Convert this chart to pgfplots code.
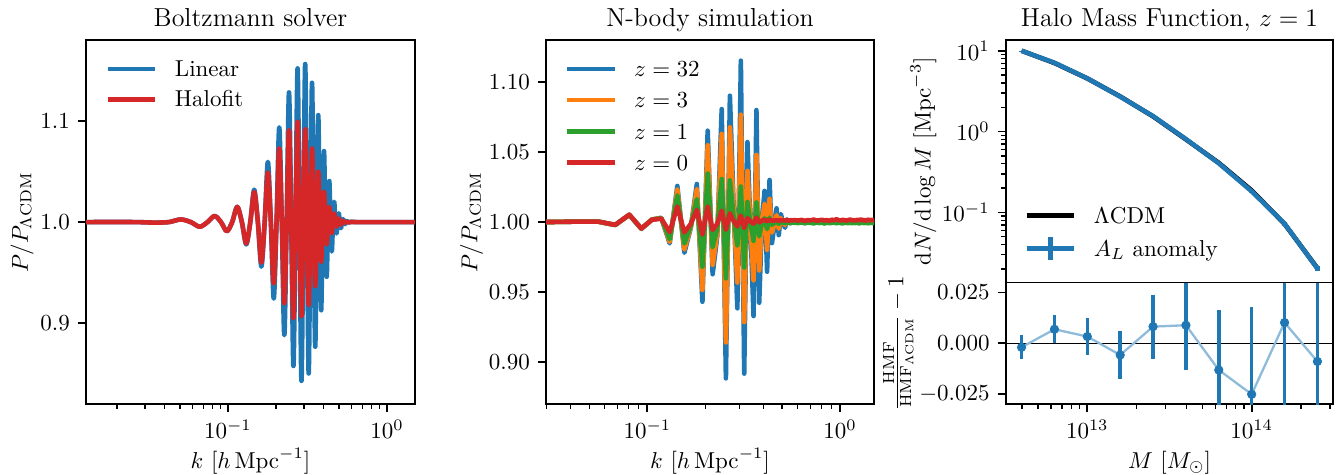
\documentclass[border=0pt]{standalone}
\usepackage{pgfplots}
\pgfplotsset{compat=1.18}
\usepackage{pgfplotstable}

\definecolor{tabblue}{HTML}{1F77B4}
\definecolor{taborange}{HTML}{FF7F0E}
\definecolor{tabgreen}{HTML}{2CA02C}
\definecolor{tabred}{HTML}{D62728}

% N-body power spectrum ratios, one column per redshift
\pgfplotstableread{
k      z32    z3     z1     z0
0.0181 1.0000 1.0000 1.0000 1.0000
0.0306 1.0000 1.0000 1.0000 1.0000
0.0431 1.0003 1.0003 1.0003 1.0003
0.0556 1.0003 1.0003 1.0003 1.0003
0.0681 0.9979 0.9979 0.9979 0.9980
0.0806 1.0052 1.0052 1.0051 1.0052
0.0931 0.9952 0.9952 0.9953 0.9954
0.1056 1.0018 1.0018 1.0017 1.0016
0.1181 1.0030 1.0029 1.0027 1.0024
0.1306 0.9848 0.9859 0.9878 0.9929
0.1431 1.0257 1.0231 1.0190 1.0111
0.1556 0.9781 0.9805 0.9847 0.9926
0.1681 0.9960 0.9965 0.9974 0.9987
0.1806 1.0271 1.0233 1.0163 1.0087
0.1931 0.9432 0.9517 0.9682 0.9910
0.2056 1.0651 1.0547 1.0345 1.0111
0.2181 0.9628 0.9695 0.9821 0.9944
0.2306 0.9900 0.9920 0.9957 0.9988
0.2431 1.0805 1.0628 1.0306 1.0081
0.2556 0.8886 0.9142 0.9599 0.9945
0.2681 1.0900 1.0675 1.0297 1.0063
0.2806 1.0100 1.0072 1.0030 1.0006
0.2931 0.9385 0.9569 0.9834 0.9969
0.3056 1.1150 1.0765 1.0253 1.0046
0.3181 0.8920 0.9287 0.9676 0.9957
0.3306 1.0570 1.0365 1.0143 1.0028
0.3431 0.9950 0.9969 0.9989 1.0004
0.3556 0.9330 0.9585 0.9866 0.9988
0.3681 1.0798 1.0479 1.0140 1.0032
0.3806 0.9425 0.9655 0.9898 0.9998
0.3931 1.0000 1.0000 0.9996 1.0010
0.4056 1.0222 1.0127 1.0027 1.0016
0.4181 0.9646 0.9802 0.9950 1.0005
0.4306 1.0300 1.0165 1.0032 1.0018
0.4431 0.9850 0.9925 0.9981 1.0009
0.4556 0.9970 0.9985 0.9993 1.0011
0.4681 1.0098 1.0049 1.0006 1.0014
0.4806 0.9907 0.9953 0.9987 1.0010
0.4931 1.0057 1.0028 1.0002 1.0013
0.5056 0.9990 0.9995 0.9995 1.0012
0.5181 0.9960 0.9980 0.9992 1.0011
0.5306 1.0019 1.0010 0.9998 1.0014
0.5431 0.9995 0.9998 0.9995 1.0010
0.5556 0.9990 0.9996 0.9994 1.0013
0.5681 1.0008 1.0004 0.9997 1.0012
0.5806 1.0000 1.0000 0.9995 1.0014
0.6056 1.0003 1.0001 0.9993 1.0011
0.6306 0.9998 1.0004 0.9997 1.0015
0.6556 1.0001 0.9999 0.9991 1.0009
0.6806 0.9996 1.0003 0.9996 1.0014
0.7056 1.0004 1.0000 0.9994 1.0012
0.7306 1.0000 1.0005 0.9990 1.0018
0.7556 0.9997 1.0002 0.9997 1.0010
0.7806 1.0002 0.9998 0.9993 1.0013
0.8056 1.0005 1.0004 0.9995 1.0016
0.8306 0.9999 1.0001 0.9989 1.0011
0.8556 1.0001 0.9999 0.9996 1.0014
0.8806 0.9996 1.0003 0.9992 1.0009
0.9056 1.0003 1.0006 0.9994 1.0017
0.9306 1.0000 1.0000 0.9998 1.0012
0.9556 1.0004 1.0002 0.9991 1.0020
0.9806 0.9998 1.0004 0.9995 1.0014
1.0056 1.0002 0.9999 0.9993 1.0011
1.0306 0.9997 1.0003 0.9990 1.0016
1.0556 1.0005 1.0001 0.9996 1.0013
1.0806 1.0001 1.0005 0.9994 1.0010
1.1056 0.9999 1.0002 0.9992 1.0015
1.1306 1.0004 0.9999 0.9997 1.0018
1.1556 0.9998 1.0004 0.9991 1.0012
1.1806 1.0003 1.0001 0.9995 1.0014
1.2056 1.0000 1.0003 0.9993 1.0011
1.2306 0.9996 1.0006 0.9996 1.0016
1.2556 1.0002 1.0000 0.9990 1.0013
1.2806 1.0005 1.0002 0.9994 1.0019
1.3056 0.9999 1.0004 0.9997 1.0012
1.3306 1.0001 0.9999 0.9992 1.0015
1.3556 1.0004 1.0003 0.9995 1.0010
1.3806 0.9997 1.0001 0.9993 1.0014
1.4056 1.0003 1.0005 0.9991 1.0017
1.4306 1.0000 1.0002 0.9996 1.0012
1.4556 1.0002 1.0000 0.9994 1.0015
1.4806 0.9998 1.0004 0.9992 1.0013
1.5056 1.0001 1.0002 0.9995 1.0016
}\nbody

% Linear and Halofit ratios from the Boltzmann code
\pgfplotstableread{
k      lin    halo
0.0128 1.0000 1.0000
0.0185 1.0001 1.0001
0.0265 1.0000 1.0000
0.0345 0.9995 0.9995
0.0425 1.0000 1.0000
0.0504 1.0026 1.0026
0.0584 1.0000 1.0000
0.0664 0.9954 0.9954
0.0744 1.0000 1.0000
0.0824 1.0060 1.0060
0.0904 1.0000 1.0000
0.0983 0.9910 0.9910
0.1063 1.0000 1.0000
0.1143 1.0151 1.0151
0.1223 1.0000 1.0000
0.1303 0.9780 0.9790
0.1382 1.0000 1.0000
0.1462 1.0320 1.0296
0.1542 1.0000 1.0000
0.1622 0.9560 0.9600
0.1702 1.0000 1.0000
0.1782 1.0595 1.0490
0.1861 1.0000 1.0000
0.1941 0.9245 0.9395
0.2021 1.0000 1.0000
0.2101 1.0935 1.0728
0.2181 1.0000 1.0000
0.2261 0.8884 0.9197
0.2340 1.0000 1.0000
0.2420 1.1280 1.0908
0.2500 1.0000 1.0000
0.2580 0.8580 0.9050
0.2660 1.0000 1.0000
0.2740 1.1517 1.0990
0.2819 1.0000 1.0000
0.2899 0.8433 0.9070
0.2979 1.0000 1.0000
0.3059 1.1560 1.0915
0.3139 1.0000 1.0000
0.3218 0.8506 0.9180
0.3298 1.0000 1.0000
0.3378 1.1375 1.0728
0.3458 1.0000 1.0000
0.3538 0.8770 0.9370
0.3618 1.0000 1.0000
0.3697 1.1056 1.0497
0.3777 1.0000 1.0000
0.3857 0.9130 0.9610
0.3937 1.0000 1.0000
0.4017 1.0700 1.0300
0.4097 1.0000 1.0000
0.4176 0.9460 0.9780
0.4256 1.0000 1.0000
0.4336 1.0405 1.0150
0.4416 1.0000 1.0000
0.4496 0.9710 0.9890
0.4575 1.0000 1.0000
0.4655 1.0200 1.0086
0.4735 1.0000 1.0000
0.4815 0.9888 0.9955
0.4895 1.0000 1.0000
0.4975 1.0086 1.0037
0.5054 1.0000 1.0000
0.5134 0.9940 0.9975
0.5214 1.0000 1.0000
0.5294 1.0030 1.0012
0.5374 1.0000 1.0000
0.5453 0.9980 0.9992
0.5533 1.0000 1.0000
0.5613 1.0010 1.0004
0.5693 1.0000 1.0000
0.5773 0.9995 0.9998
0.5853 1.0000 1.0000
0.5933 1.0003 1.0001
0.6500 1.0000 1.0000
0.8000 1.0000 1.0000
1.0000 1.0000 1.0000
1.5000 1.0000 1.0000
}\boltz

% Halo mass function at z = 1 and the relative deviation
\pgfplotstableread{
M        LCDM   AL     eAL    r       er
3.981e12 10.00  9.980  0.060  -0.0020 0.0060
6.310e12 7.050  7.099  0.050  0.0069  0.0070
1.000e13 4.540  4.555  0.041  0.0033  0.0090
1.585e13 2.720  2.704  0.032  -0.0058 0.0118
2.512e13 1.540  1.553  0.025  0.0082  0.0158
3.981e13 0.800  0.8071 0.018  0.0089  0.0220
6.310e13 0.410  0.4046 0.012  -0.0132 0.0296
1.000e14 0.187  0.1823 0.0078 -0.0252 0.0431
1.585e14 0.0720 0.0727 0.0040 0.0102  0.0550
2.512e14 0.0204 0.0202 0.0016 -0.0090 0.0800
}\hmf

\pgfplotsset{
  panel/.style={
    scale only axis,
    axis line style={line width=0.8pt},
    tick align=outside,
    xtick pos=left, ytick pos=left,
    major tick length=3.5pt, minor tick length=2pt,
    tick style={black, line width=0.8pt},
    minor tick style={line width=0.6pt},
    scaled ticks=false,
    tick label style={font=\fontsize{10}{12}\selectfont},
    label style={font=\fontsize{10}{12}\selectfont},
    every axis title/.style={at={(0.5,1)}, anchor=base, yshift=5.8pt,
      font=\fontsize{11.3}{13}\selectfont},
    every axis x label/.style={at={([yshift=-28pt]axis description cs:0.5,0)}, anchor=base},
    legend cell align=left,
    legend style={draw=none, fill=none, inner sep=0pt, row sep=3pt,
      nodes={inner sep=0pt, text height=8.6pt, text depth=2pt},
      font=\fontsize{10}{12}\selectfont,
      /tikz/every odd column/.append style={column sep=7.5pt}},
    legend image code/.code={\draw[##1] (0pt,0pt) -- (20.7pt,0pt);},
  },
  errlegend/.style={
    legend image code/.code={\draw[##1] (0pt,0pt) -- (20.7pt,0pt);
      \draw[##1] (10.35pt,-4.9pt) -- (10.35pt,4.9pt);}},
  curve/.style={line width=2pt, line join=round},
}

\begin{document}
\begin{tikzpicture}
\useasboundingbox (0,0) rectangle (582.6pt,206.1pt);

% ---------- Boltzmann solver ----------
\begin{axis}[panel,
  at={(37.39pt,30.43pt)}, anchor=south west,
  width=143.04pt, height=158.26pt,
  xmode=log, xmin=0.0128, xmax=1.5,
  ymin=0.8204, ymax=1.1797,
  xtick={0.1,1},
  minor xtick={0.02,0.03,0.04,0.05,0.06,0.07,0.08,0.09,0.2,0.3,0.4,0.5,0.6,0.7,0.8,0.9},
  ytick={0.9,1.0,1.1},
  yticklabel style={/pgf/number format/.cd, fixed, fixed zerofill, precision=1},
  title={Boltzmann solver},
  xlabel={$k\ [h\,\mathrm{Mpc}^{-1}]$},
  ylabel={$P/P_{\Lambda\mathrm{CDM}}$},
  every axis y label/.style={at={([xshift=-27.8pt]axis description cs:0,0.5)}, rotate=90, anchor=center},
  legend style={at={([xshift=8.26pt,yshift=-7.05pt]axis description cs:0,1)}, anchor=north west, row sep=2.6pt},
]
\addplot[tabblue, curve, smooth] table[x=k, y=lin] {\boltz};
\addlegendentry{Linear}
\addplot[tabred, curve, smooth] table[x=k, y=halo] {\boltz};
\addlegendentry{Halofit}
\end{axis}

% ---------- N-body simulation ----------
\begin{axis}[panel,
  at={(237.39pt,30.43pt)}, anchor=south west,
  width=142.61pt, height=158.26pt,
  xmode=log, xmin=0.0298, xmax=1.5,
  ymin=0.8703, ymax=1.1297,
  xtick={0.1,1},
  minor xtick={0.03,0.04,0.05,0.06,0.07,0.08,0.09,0.2,0.3,0.4,0.5,0.6,0.7,0.8,0.9},
  ytick={0.90,0.95,1.00,1.05,1.10},
  yticklabel style={/pgf/number format/.cd, fixed, fixed zerofill, precision=2},
  title={N-body simulation},
  xlabel={$k\ [h\,\mathrm{Mpc}^{-1}]$},
  ylabel={$P/P_{\Lambda\mathrm{CDM}}$},
  every axis y label/.style={at={([xshift=-32.3pt]axis description cs:0,0.5)}, rotate=90, anchor=center},
  legend style={at={([xshift=7.96pt,yshift=-7.05pt]axis description cs:0,1)}, anchor=north west, row sep=3.0pt},
]
\addplot[tabblue, curve] table[x=k, y=z32] {\nbody};
\addlegendentry{$z=32$}
\addplot[taborange, curve] table[x=k, y=z3] {\nbody};
\addlegendentry{$z=3$}
\addplot[tabgreen, curve] table[x=k, y=z1] {\nbody};
\addlegendentry{$z=1$}
\addplot[tabred, curve] table[x=k, y=z0] {\nbody};
\addlegendentry{$z=0$}
\end{axis}

% ---------- Halo mass function: deviation ----------
\begin{axis}[panel,
  at={(437.26pt,30.43pt)}, anchor=south west,
  width=142.43pt, height=52.87pt,
  xmode=log, xmin=3.19e12, xmax=3.14e14,
  ymin=-0.03, ymax=0.03,
  xtick={1e13,1e14},
  minor xtick={4e12,5e12,6e12,7e12,8e12,9e12,2e13,3e13,4e13,5e13,6e13,7e13,8e13,9e13,2e14,3e14},
  ytick={-0.025,0,0.025},
  yticklabel style={/pgf/number format/.cd, fixed, fixed zerofill, precision=3},
  xlabel={$M\ [M_\odot]$},
  ylabel={$\frac{\mathrm{HMF}}{\mathrm{HMF}_{\Lambda\mathrm{CDM}}}-1$},
  every axis y label/.style={at={([xshift=-46.7pt]axis description cs:0,0.5)}, rotate=90, anchor=center},
]
\addplot[black, line width=0.6pt, forget plot] coordinates {(1e12,0) (1e15,0)};
\addplot[tabblue!50, line width=1pt, forget plot] table[x=M, y=r] {\hmf};
\addplot[tabblue, only marks, mark=*, mark size=1.8pt, forget plot,
  error bars/.cd, y dir=both, y explicit, error mark=none,
  error bar style={line width=1.5pt}]
  table[x=M, y=r, y error=er] {\hmf};
\end{axis}

% ---------- Halo mass function ----------
\begin{axis}[panel,
  at={(437.26pt,83.30pt)}, anchor=south west,
  width=142.43pt, height=105.52pt,
  xmode=log, ymode=log,
  xmin=3.19e12, xmax=3.14e14,
  ymin=0.01361, ymax=13.68,
  xtick=\empty, minor xtick={},
  ytick={0.1,1,10},
  minor ytick={0.02,0.03,0.04,0.05,0.06,0.07,0.08,0.09,0.2,0.3,0.4,0.5,0.6,0.7,0.8,0.9,2,3,4,5,6,7,8,9},
  title={Halo Mass Function, $z=1$},
  ylabel={$\mathrm{d}N/\mathrm{d}\log M\ [\mathrm{Mpc}^{-3}]$},
  every axis y label/.style={at={([xshift=-35.8pt]axis description cs:0,0.5)}, rotate=90, anchor=center},
  legend style={at={([xshift=7.96pt,yshift=8.6pt]axis description cs:0,0)}, anchor=south west, row sep=3.1pt},
]
\addplot[black, curve] table[x=M, y=LCDM] {\hmf};
\addlegendentry{$\Lambda$CDM}
\addplot[tabblue, curve, errlegend,
  error bars/.cd, y dir=both, y explicit, error mark=none,
  error bar style={line width=2pt}]
  table[x=M, y=AL, y error=eAL] {\hmf};
\addlegendentry{$A_L$ anomaly}
\end{axis}
\end{tikzpicture}
\end{document}
